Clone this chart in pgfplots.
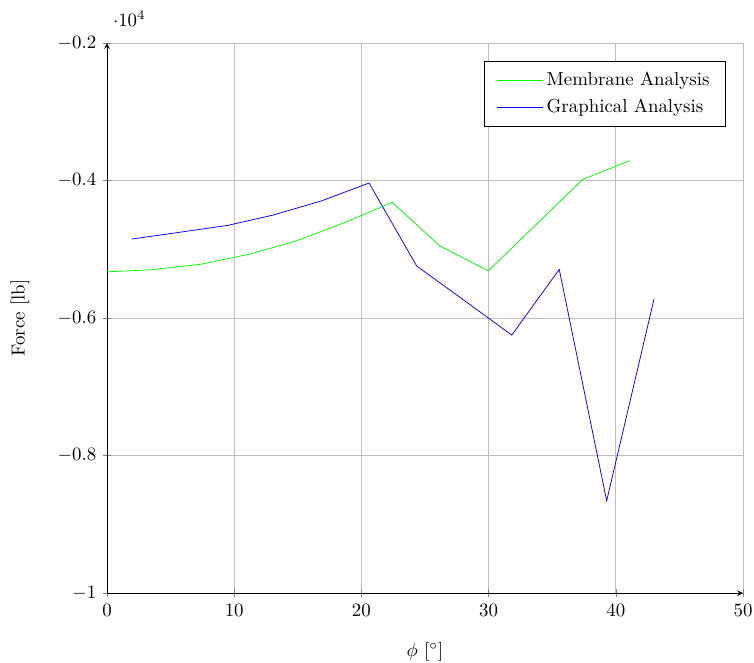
\documentclass[border=0pt]{standalone}
\usepackage{pgfplots}
\pgfplotsset{compat=1.18}

\begin{document}
\begin{tikzpicture}
\begin{axis}[
    scale only axis,
    width=337pt,
    height=291.5pt,
    axis lines=left,
    xmin=0, xmax=50,
    ymin=-10000, ymax=-2000,
    xtick={0,10,20,30,40,50},
    ytick={-10000,-8000,-6000,-4000,-2000},
    grid=major,
    tick align=center,
    tick style={gray},
    xlabel={$\phi$ [$^\circ$]},
    ylabel={Force [lb]},
    xlabel style={yshift=-7pt},
    ylabel style={yshift=8pt},
    legend cell align=left,
    legend style={at={(0.973,0.968)}, anchor=north east,
                  inner xsep=6.5pt, inner ysep=4pt, row sep=1.4pt},
    legend image code/.code={
        \draw[mark repeat=2, mark phase=2, #1]
            plot coordinates {(0cm,0cm) (0.425cm,0cm) (0.85cm,0cm)};
    },
]
\addplot[color=green, mark=none] coordinates {
    (0,-5327) (3.51,-5297) (7.44,-5215) (11.24,-5069) (14.91,-4876)
    (18.84,-4599) (22.43,-4317) (26.18,-4953) (29.98,-5312)
    (33.69,-4648) (37.40,-3983) (41.09,-3712)
};
\addlegendentry{Membrane Analysis}
\addplot[color=blue, mark=none] coordinates {
    (1.94,-4851) (5.70,-4752) (9.49,-4652) (13.05,-4502) (16.82,-4298)
    (20.60,-4036) (24.35,-5244) (28.10,-5745) (31.82,-6247)
    (35.55,-5292) (39.28,-8657) (43.00,-5724)
};
\addlegendentry{Graphical Analysis}
\end{axis}
% page frame: room for the labels on the left and below, a little above the scale label
\pgfresetboundingbox
\path ([shift={(-56.7pt,-36.6pt)}]current axis.south west)
      rectangle ([shift={(5.8pt,22.8pt)}]current axis.north east);
\end{tikzpicture}
\end{document}
